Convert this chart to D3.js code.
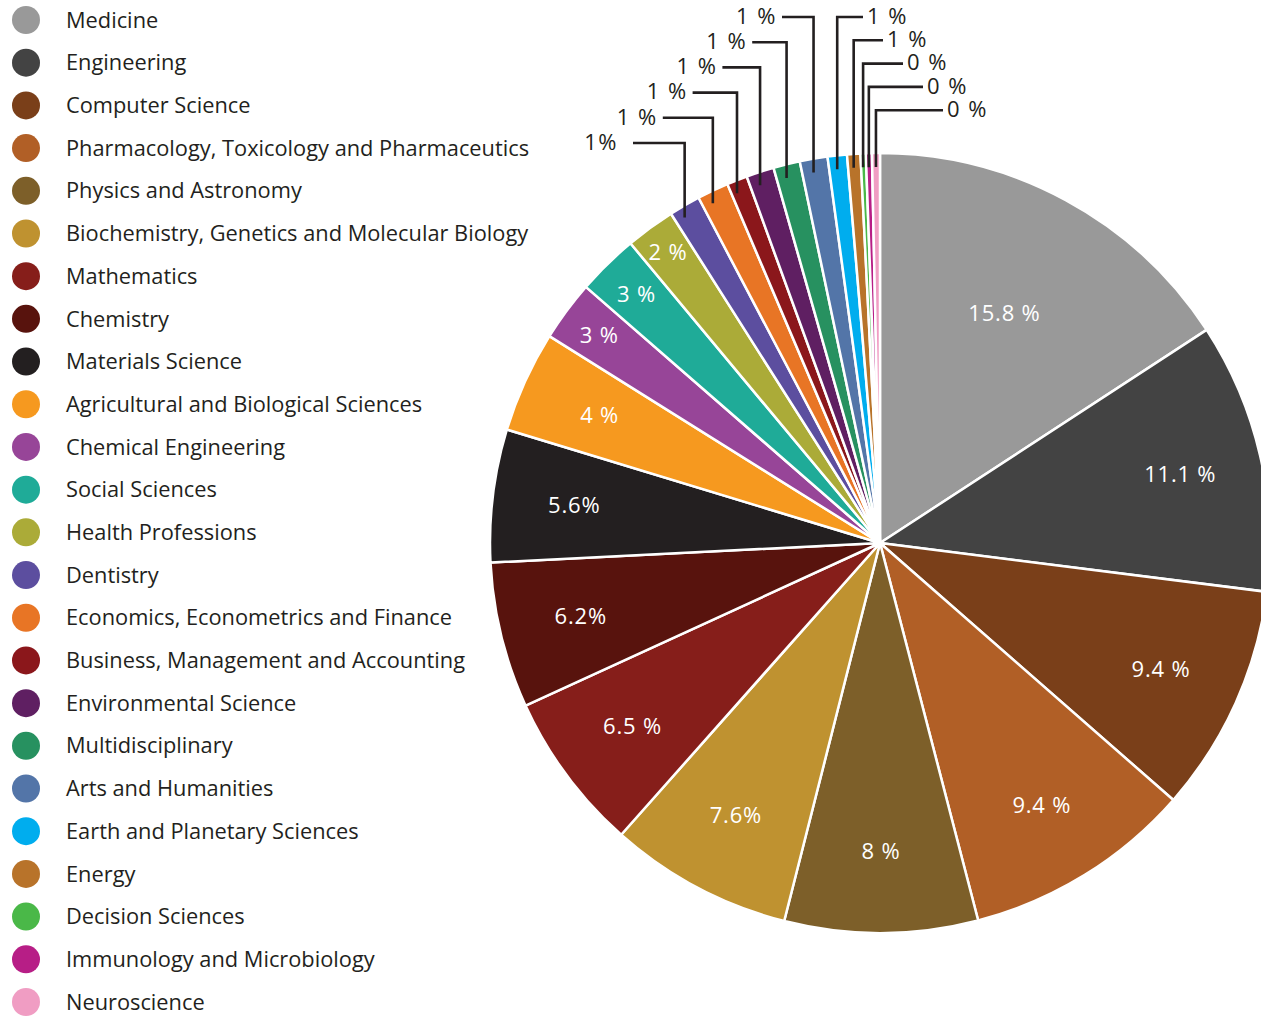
<!DOCTYPE html>
<html>
<head>
<meta charset="utf-8">
<script src="https://cdn.jsdelivr.net/npm/d3@7"></script>
<style>
  html, body { margin: 0; padding: 0; background: #fff; overflow: hidden; }
  svg { display: block; }
  text { font-family: "Open Sans", "Noto Sans", sans-serif; }
</style>
</head>
<body>
<svg id="chart" width="1261" height="1017"></svg>
<script>
// ---- data ----
const categories = [
  "Medicine", "Engineering", "Computer Science",
  "Pharmacology, Toxicology and Pharmaceutics", "Physics and Astronomy",
  "Biochemistry, Genetics and Molecular Biology", "Mathematics", "Chemistry",
  "Materials Science", "Agricultural and Biological Sciences", "Chemical Engineering",
  "Social Sciences", "Health Professions", "Dentistry",
  "Economics, Econometrics and Finance", "Business, Management and Accounting",
  "Environmental Science", "Multidisciplinary", "Arts and Humanities",
  "Earth and Planetary Sciences", "Energy", "Decision Sciences",
  "Immunology and Microbiology", "Neuroscience"
];
const values = [15.8, 11.2, 9.45, 9.5, 8.0, 7.6, 6.6, 6.05, 5.5, 4.2, 2.5, 2.55, 2.05,
                1.3, 1.3, 0.85, 1.15, 1.1, 1.15, 0.8, 0.55, 0.22, 0.25, 0.33];
const valueLabels = ["15.8 %", "11.1 %", "9.4 %", "9.4 %", "8 %", "7.6%", "6.5 %", "6.2%",
                     "5.6%", "4 %", "3 %", "3 %", "2 %",
                     "1%", "1 %", "1 %", "1 %", "1 %", "1 %",
                     "1 %", "1 %", "0 %", "0 %", "0 %"];
const colors = ["#999999", "#434343", "#7a3f19", "#b15f26", "#7d5f29", "#bf9230",
                "#861e1a", "#58130d", "#231f20", "#f6991f", "#974598", "#1fab98",
                "#abab38", "#5c4e9f", "#e87525", "#8b171b", "#5f1f62", "#279160",
                "#5375a8", "#00adee", "#b8732a", "#4ab848", "#b71e86", "#f09dc3"];

// ---- layout ----
const svg = d3.select("#chart");
const cx = 880, cy = 543, R = 390;
const ink = "#231f20";

const color = d3.scaleOrdinal().domain(categories).range(colors);

const pie = d3.pie().sort(null).value(d => d.value)
  .startAngle(0).endAngle(2 * Math.PI);
const data = categories.map((c, i) => ({ name: c, value: values[i], label: valueLabels[i], idx: i }));
const arcs = pie(data);
const arc = d3.arc().innerRadius(0).outerRadius(R);

const g = svg.append("g").attr("transform", `translate(${cx},${cy})`);
g.selectAll("path.slice").data(arcs).join("path")
  .attr("class", "slice")
  .attr("d", arc)
  .attr("fill", d => color(d.data.name))
  .attr("stroke", "#fff")
  .attr("stroke-width", 2.5)
  .attr("stroke-linejoin", "round");

// inner labels (slices >= 2 %)
const inner = arcs.filter(d => d.data.value >= 1.8);
function labelRadius(v) {
  if (v > 12) return R * 0.67;
  if (v >= 3.5) return R * 0.79;
  return R * (0.89 + (2.6 - v) * 0.06);
}
g.selectAll("text.inlabel").data(inner).join("text")
  .attr("class", "inlabel")
  .attr("transform", d => {
    const a = (d.startAngle + d.endAngle) / 2;
    const r = labelRadius(d.data.value);
    return `translate(${r * Math.sin(a)},${-r * Math.cos(a)})`;
  })
  .attr("text-anchor", "middle")
  .attr("dy", "0.35em")
  .attr("fill", "#fff")
  .attr("font-size", 22)
  .attr("letter-spacing", 0.8)
  .text(d => d.data.label);

// outer labels with leader lines
const outer = arcs.filter(d => d.data.value < 1.8);
const arcsLeft = outer.filter(d => d.data.idx <= 18);   // Dentistry .. Arts
const arcsRight = outer.filter(d => d.data.idx > 18);   // Earth .. Neuroscience
const lead = g.append("g");
function drawLeader(d, levelY, lineEnd, side, gap) {
  const a = (d.startAngle + d.endAngle) / 2;
  const xv = R * Math.sin(a);
  const yIn = -(R - 14) * Math.cos(a);
  const pts = [[xv, yIn], [xv, levelY], [lineEnd, levelY]];
  lead.append("path")
    .attr("d", d3.line()(pts))
    .attr("fill", "none")
    .attr("stroke", ink)
    .attr("stroke-width", 2.6);
  lead.append("text")
    .attr("x", side === "left" ? lineEnd - gap : lineEnd + gap)
    .attr("y", levelY - 1)
    .attr("dy", "0.35em")
    .attr("text-anchor", side === "left" ? "end" : "start")
    .attr("fill", ink)
    .attr("font-size", 22)
    .attr("letter-spacing", 1.5)
    .text(d.data.label);
}
// left group: from Arts (topmost) downward
const leftList = arcsLeft.slice().reverse();
leftList.forEach((d, k) => {
  const levelY = 17 + k * 25.2 - cy;
  const lineEnd = 782 - k * 29.8 - cx;
  drawLeader(d, levelY, lineEnd, "left", k === leftList.length - 1 ? 15 : 5);
});
// right group: from Earth (topmost) downward
arcsRight.forEach((d, k) => {
  const levelY = 17 + k * 23.3 - cy;
  const lineEnd = 863 + k * 20 - cx;
  drawLeader(d, levelY, lineEnd, "right", 4);
});

// ---- legend ----
const legendY = d3.scalePoint().domain(categories).range([20, 1002]);
const leg = svg.append("g");
const items = leg.selectAll("g.item").data(categories).join("g")
  .attr("class", "item")
  .attr("transform", d => `translate(0,${legendY(d)})`);
items.append("circle")
  .attr("cx", 26).attr("cy", 0).attr("r", 14)
  .attr("fill", d => color(d));
items.append("text")
  .attr("x", 66).attr("y", 0).attr("dy", "0.35em")
  .attr("fill", ink)
  .attr("font-size", 21.8)
  .text(d => d);
</script>
</body>
</html>
